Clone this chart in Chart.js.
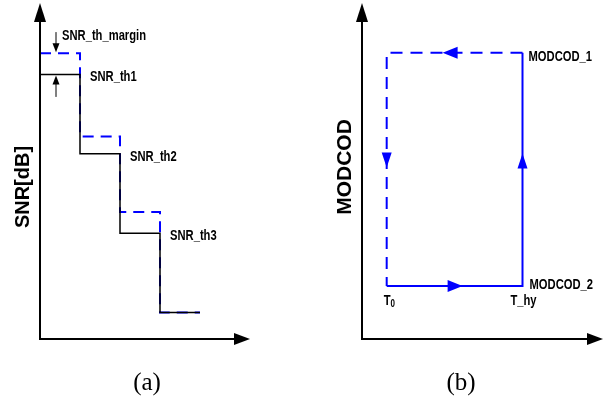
<!DOCTYPE html>
<html>
<head>
<meta charset="utf-8">
<script src="https://cdn.jsdelivr.net/npm/chart.js@4.4.0/dist/chart.umd.min.js"></script>
<style>
  body { margin: 0; background: #fff; }
  canvas { position: absolute; top: 0; }
  #panelA { left: 0; }
  #panelB { left: 308px; }
</style>
</head>
<body>
<canvas id="panelA" width="308" height="401"></canvas>
<canvas id="panelB" width="308" height="401"></canvas>
<script>
// (a) SNR thresholds, with and without margin
const stepX = [0, 1, 2, 3, 4];
const snrThreshold = [10, 7, 4, 1, 1];
const snrWithMargin = [10.8, 7.65, 4.8, 1, 1];
const thresholdLabels = ['SNR_th1', 'SNR_th2', 'SNR_th3'];
const marginLabel = 'SNR_th_margin';

// (b) hysteresis loop between two MODCODs
const loopTimes = [1, 6.5];          // T0, T_hy
const timeLabels = ['T', 'T_hy'];    // first one gets a subscript 0
const modcodLevels = [1, 5.4];       // MODCOD_2, MODCOD_1
const modcodLabels = ['MODCOD_2', 'MODCOD_1'];

const BLUE = '#0000ff';
const SANS = "'Liberation Sans', Arial, sans-serif";
const SERIF = "'Liberation Serif', 'Times New Roman', serif";

function head(ctx, x, y, angle, len, half, color) {
    ctx.save();
    ctx.translate(x, y);
    ctx.rotate(angle);
    ctx.fillStyle = color;
    ctx.beginPath();
    ctx.moveTo(0, 0);
    ctx.lineTo(-len, -half);
    ctx.lineTo(-len, half);
    ctx.closePath();
    ctx.fill();
    ctx.restore();
}

// bold narrow label (the original uses a condensed face)
function label(ctx, text, x, y, align, size) {
    ctx.save();
    ctx.font = 'bold ' + (size || 14) + 'px ' + SANS;
    ctx.fillStyle = '#000';
    ctx.textBaseline = 'alphabetic';
    ctx.textAlign = align || 'left';
    ctx.translate(x, y);
    ctx.scale(0.8, 1);
    ctx.fillText(text, 0, 0);
    const w = ctx.measureText(text).width * 0.8;
    ctx.restore();
    return w;
}

function drawAxes(chart, title, caption) {
    const ctx = chart.ctx, xs = chart.scales.x, ys = chart.scales.y;
    const x0 = xs.getPixelForValue(0), y0 = ys.getPixelForValue(0);
    const xEnd = xs.getPixelForValue(xs.max), yEnd = ys.getPixelForValue(ys.max);
    ctx.save();
    ctx.strokeStyle = '#000';
    ctx.lineWidth = 2;
    ctx.beginPath();
    ctx.moveTo(x0, yEnd + 10);
    ctx.lineTo(x0, y0);
    ctx.lineTo(xEnd - 10, y0);
    ctx.stroke();
    head(ctx, x0, yEnd, -Math.PI / 2, 19, 6, '#000');
    head(ctx, xEnd, y0, 0, 16, 6, '#000');

    ctx.fillStyle = '#000';
    ctx.font = 'bold ' + title.size + 'px ' + SANS;
    ctx.textAlign = 'center';
    ctx.textBaseline = 'middle';
    ctx.translate(x0 - 17, title.y);
    ctx.rotate(-Math.PI / 2);
    ctx.fillText(title.text, 0, 0);
    ctx.restore();

    ctx.save();
    ctx.fillStyle = '#000';
    ctx.font = '25px ' + SERIF;
    ctx.textAlign = 'center';
    ctx.textBaseline = 'middle';
    ctx.fillText(caption.text, caption.x, 383);
    ctx.restore();
}

const panelAPlugin = {
    id: 'panelA',
    afterDatasetsDraw(chart) {
        const ctx = chart.ctx, xs = chart.scales.x, ys = chart.scales.y;
        drawAxes(chart, {text: 'SNR[dB]', y: 187, size: 20}, {text: '(a)', x: 147});
        thresholdLabels.forEach((t, i) => {
            label(ctx, t, xs.getPixelForValue(stepX[i + 1] + 0.25), ys.getPixelForValue(snrThreshold[i]) + 7);
        });
        label(ctx, marginLabel, xs.getPixelForValue(0.55), ys.getPixelForValue(11.3));

        // margin arrows pointing at the two first levels
        const ax = xs.getPixelForValue(0.4);
        ctx.save();
        ctx.strokeStyle = '#000';
        ctx.lineWidth = 1;
        ctx.beginPath();
        ctx.moveTo(ax, ys.getPixelForValue(11.6));
        ctx.lineTo(ax, ys.getPixelForValue(snrWithMargin[0]) - 6);
        ctx.moveTo(ax, ys.getPixelForValue(9.15));
        ctx.lineTo(ax, ys.getPixelForValue(snrThreshold[0]) + 6);
        ctx.stroke();
        head(ctx, ax, ys.getPixelForValue(snrWithMargin[0]) - 1, Math.PI / 2, 9, 3.5, '#000');
        head(ctx, ax, ys.getPixelForValue(snrThreshold[0]) + 1, -Math.PI / 2, 9, 3.5, '#000');
        ctx.restore();
    }
};

const panelBPlugin = {
    id: 'panelB',
    afterDatasetsDraw(chart) {
        const ctx = chart.ctx, xs = chart.scales.x, ys = chart.scales.y;
        drawAxes(chart, {text: 'MODCOD', y: 167, size: 21}, {text: '(b)', x: 153});
        const xl = xs.getPixelForValue(loopTimes[0]), xr = xs.getPixelForValue(loopTimes[1]);
        const yb = ys.getPixelForValue(modcodLevels[0]), yt = ys.getPixelForValue(modcodLevels[1]);
        const xm = (xl + xr) / 2, ym = (yb + yt) / 2;
        head(ctx, xm + 8, yb, 0, 15, 6, BLUE);
        head(ctx, xr, ym - 16, -Math.PI / 2, 15, 5, BLUE);
        head(ctx, xm - 12, yt, Math.PI, 15, 6, BLUE);
        head(ctx, xl, ym - 2, Math.PI / 2, 15, 5, BLUE);

        label(ctx, modcodLabels[1], xr + 6, yt + 8);
        label(ctx, modcodLabels[0], xr + 7, yb + 3);
        label(ctx, timeLabels[1], xr + 1, yb + 19, 'center');
        const tw = label(ctx, timeLabels[0], xl - 3, yb + 19);
        label(ctx, '0', xl - 3 + tw, yb + 21, 'left', 10);
    }
};

function baseOptions(pad, xMax, yMax) {
    return {
        responsive: false,
        animation: false,
        devicePixelRatio: 1,
        layout: {padding: pad},
        plugins: {legend: {display: false}, tooltip: {enabled: false}},
        elements: {point: {radius: 0}},
        scales: {
            x: {type: 'linear', display: false, min: 0, max: xMax},
            y: {type: 'linear', display: false, min: 0, max: yMax}
        }
    };
}

new Chart(document.getElementById('panelA'), {
    type: 'line',
    data: {
        datasets: [{
            data: stepX.map((x, i) => ({x: x, y: snrThreshold[i]})),
            borderColor: '#000',
            borderWidth: 1.5,
            stepped: 'before',
            clip: false
        }, {
            data: stepX.map((x, i) => ({x: x, y: snrWithMargin[i]})),
            borderColor: BLUE,
            borderWidth: 2,
            borderDash: [11, 7],
            stepped: 'before',
            clip: false
        }]
    },
    options: baseOptions({left: 40, right: 58, top: 3, bottom: 62}, 5.25, 12.7),
    plugins: [panelAPlugin]
});

new Chart(document.getElementById('panelB'), {
    type: 'line',
    data: {
        datasets: [{
            // switching up: T0 -> T_hy at MODCOD_2, then up to MODCOD_1
            data: [
                {x: loopTimes[0], y: modcodLevels[0]},
                {x: loopTimes[1], y: modcodLevels[0]},
                {x: loopTimes[1], y: modcodLevels[1]}
            ],
            borderColor: BLUE,
            borderWidth: 2,
            clip: false
        }, {
            // switching back down
            data: [
                {x: loopTimes[1], y: modcodLevels[1]},
                {x: loopTimes[0], y: modcodLevels[1]},
                {x: loopTimes[0], y: modcodLevels[0]}
            ],
            borderColor: BLUE,
            borderWidth: 2,
            borderDash: [12, 8],
            clip: false
        }]
    },
    options: baseOptions({left: 54, right: 13, top: 3, bottom: 62}, 9.76, 6.34),
    plugins: [panelBPlugin]
});
</script>
</body>
</html>
